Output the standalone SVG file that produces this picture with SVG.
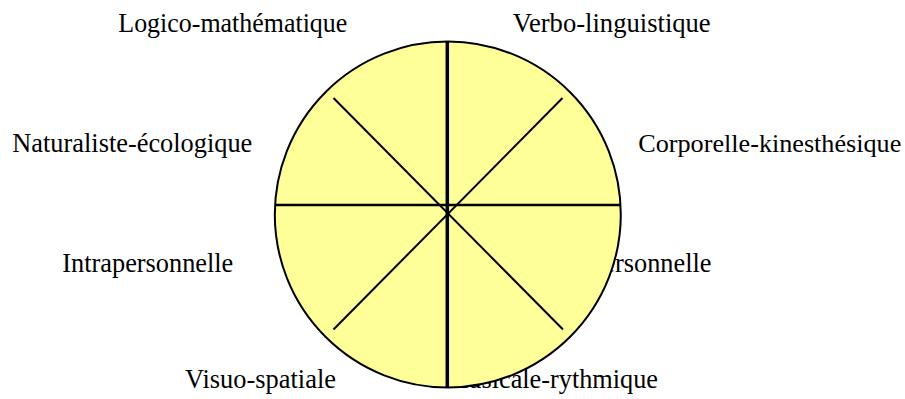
<svg xmlns="http://www.w3.org/2000/svg" width="905" height="399" viewBox="0 0 905 399">
<style>
text{font-family:"Liberation Serif","Times New Roman",serif;font-size:28px;fill:#000}
.ln{stroke:#000;fill:none}
</style>
<rect width="905" height="399" fill="#fff"/>
<g id="labels">
<g id="n-logico"><text x="118.3" y="32.3" textLength="229" lengthAdjust="spacingAndGlyphs">Logico-mathématique</text></g>
<g id="n-verbo"><text x="512.7" y="32.3" textLength="198" lengthAdjust="spacingAndGlyphs">Verbo-linguistique</text></g>
<g id="n-naturaliste"><text x="12.3" y="152.3" textLength="240" lengthAdjust="spacingAndGlyphs">Naturaliste-écologique</text></g>
<g id="n-corporelle"><text x="638.3" y="152.3" style="font-size:26.1px" textLength="263" lengthAdjust="spacingAndGlyphs">Corporelle-kinesthésique</text></g>
<g id="n-intra"><text x="62.3" y="271.5" textLength="171" lengthAdjust="spacingAndGlyphs">Intrapersonnelle</text></g>
<g id="n-inter"><text x="540.5" y="271.5" textLength="171" lengthAdjust="spacingAndGlyphs">Interpersonnelle</text></g>
<g id="n-visuo"><text x="185" y="388.3" textLength="151" lengthAdjust="spacingAndGlyphs">Visuo-spatiale</text></g>
<g id="n-musicale"><text x="445" y="388.3" textLength="213" lengthAdjust="spacingAndGlyphs">Musicale-rythmique</text></g>
</g>
<g id="wheel">
<circle cx="447.8" cy="214.5" r="173" fill="#ffff99" stroke="#000" stroke-width="2"/>
</g>
<g id="connectors">
<line class="ln" x1="274.8" y1="205" x2="620.8" y2="205" stroke-width="2.5"/>
<line class="ln" x1="333.5" y1="98" x2="563" y2="329.5" stroke-width="2"/>
<line class="ln" x1="562.5" y1="98" x2="333.5" y2="329.5" stroke-width="2"/>
<line class="ln" x1="447.3" y1="42" x2="447.3" y2="387" stroke-width="3.5"/>
</g>
</svg>
